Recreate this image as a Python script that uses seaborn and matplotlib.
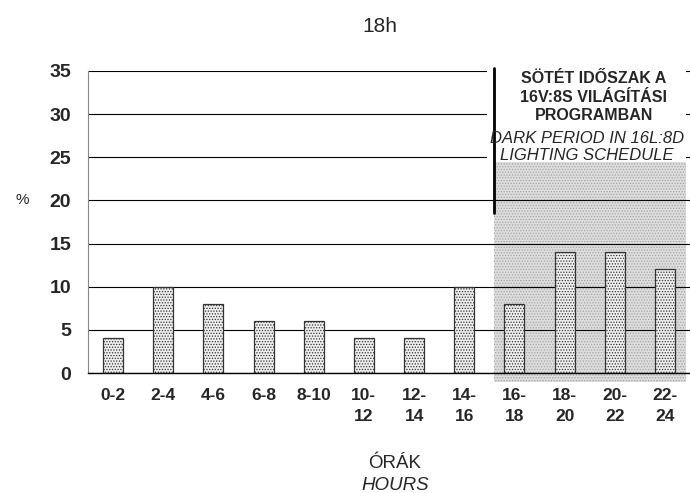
import pandas as pd
import matplotlib
matplotlib.use('Agg')
import matplotlib.pyplot as plt
from matplotlib.patches import Rectangle
import seaborn as sns

# chart values
hours = ['0-2', '2-4', '4-6', '6-8', '8-10', '10-\n12', '12-\n14', '14-\n16',
         '16-\n18', '18-\n20', '20-\n22', '22-\n24']
percent = [4, 10, 8, 6, 6, 4, 4, 10, 8, 14, 14, 12]
dark_start = 7.6     # dark period begins here (category units)
dark_top = 24.4      # top of shaded area
line_bottom = 18.6   # lower end of the vertical divider

df = pd.DataFrame({'hours': hours, 'percent': percent})

sns.set_style('white')
plt.rcParams['font.family'] = ['Liberation Sans', 'DejaVu Sans']
plt.rcParams['hatch.linewidth'] = 0.6

fig = plt.figure(figsize=(6.9, 4.93), dpi=100)
ax = fig.add_axes([0.1275, 0.2434, 1 - 0.1275, 0.856 - 0.2434])

sns.barplot(data=df, x='hours', y='percent', ax=ax, width=0.4,
            color='#eeeeee', edgecolor='#333333', linewidth=0.9,
            saturation=1, zorder=2)
for p in ax.patches:
    p.set_hatch('......')

ax.set_xlim(-0.5, 11.42)
ax.set_ylim(0, 35)
ax.set_yticks(range(0, 36, 5))

# grid lines
ax.set_axisbelow(True)
ax.yaxis.grid(True, color='black', linewidth=0.8)
ax.xaxis.grid(False)

# dark period shading
shade = Rectangle((dark_start, -1.0), 11.42 - dark_start, dark_top + 1.0,
                  facecolor='#dddddd', edgecolor='#a5a5a5', hatch='......',
                  linewidth=0, zorder=0.2, clip_on=False)
ax.add_patch(shade)
# white box behind the annotation, hiding the grid lines
ax.add_patch(Rectangle((7.45, dark_top), 11.42 - 7.45, 36 - dark_top,
                       facecolor='white', edgecolor='none', zorder=0.8,
                       clip_on=False))
ax.plot([dark_start, dark_start], [line_bottom, 35.4], color='black',
        linewidth=2, zorder=3, clip_on=False)

# spines and ticks
for s in ['top', 'right']:
    ax.spines[s].set_visible(False)
ax.spines['left'].set_color('#888888')
ax.spines['bottom'].set_color('black')
ax.spines['bottom'].set_linewidth(1.0)
ax.set_xticks([i + 0.5 for i in range(-1, 12)], minor=True)
ax.tick_params(axis='x', which='major', length=0, pad=11)
ax.tick_params(axis='x', which='minor', length=5, direction='out',
               color='#666666', width=0.8)
ax.tick_params(axis='y', length=6, direction='out', color='#888888', pad=6)
ax.set_xticks(range(12))
ax.set_xticklabels(hours, fontsize=12.5, fontweight='bold', linespacing=1.45)
for lbl in ax.get_yticklabels():
    lbl.set_fontsize(14)
    lbl.set_fontweight('bold')

ax.set_xlabel('')
ax.set_ylabel('')
fig.text(22 / 690, 1 - 200 / 493, '%', fontsize=11, ha='center', va='center')
fig.text(380 / 690, 1 - 26 / 493, '18h', fontsize=15, ha='center', va='center')
fig.text(395 / 690, 1 - 463 / 493, 'ÓRÁK', fontsize=13.5, ha='center', va='center')
fig.text(395 / 690, 1 - 485 / 493, 'HOURS', fontsize=13.5, style='italic',
         ha='center', va='center')

fig.text(594 / 690, 1 - 97 / 493, 'SÖTÉT IDŐSZAK A\n16V:8S VILÁGÍTÁSI\nPROGRAMBAN',
         fontsize=11.5, fontweight='bold', ha='center', va='center',
         linespacing=1.3)
fig.text(587 / 690, 1 - 147 / 493, 'DARK PERIOD IN 16L:8D\nLIGHTING SCHEDULE',
         fontsize=12, style='italic', ha='center', va='center',
         linespacing=1.15)

fig.savefig('out.png', dpi=100)
